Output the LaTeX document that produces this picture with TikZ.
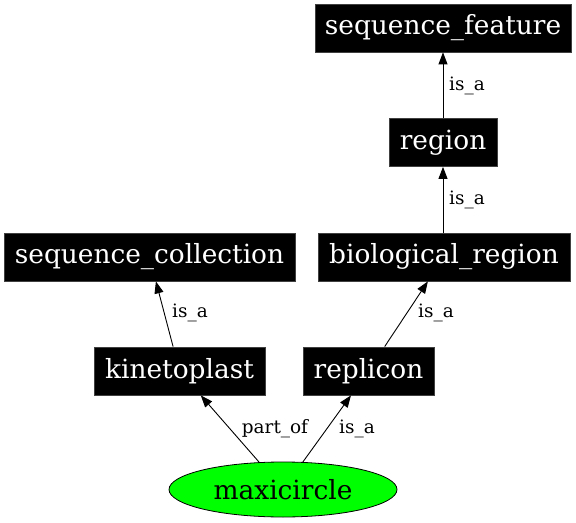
\documentclass[tikz,border=0pt]{standalone}
\usepackage{fontspec}
\setmainfont{DejaVu Serif}
\usetikzlibrary{arrows.meta,shapes.geometric}
\begin{document}
\begin{tikzpicture}[x=1bp,y=-1bp,
  term/.style={rectangle, fill=black, draw=black!75, line width=0.8bp, text=white,
    font=\fontsize{26.5}{30}\selectfont, inner sep=0pt, minimum height=48bp, anchor=center},
  leaf/.style={ellipse, fill=green, draw=black, line width=0.8bp,
    font=\fontsize{26.5}{30}\selectfont, inner sep=0pt, minimum width=228bp, minimum height=55bp},
  rel/.style={-{Triangle[length=12bp,width=9bp]}, line width=0.9bp, black},
  lab/.style={font=\fontsize{18.5}{22}\selectfont, inner sep=0pt, anchor=center}]
\useasboundingbox (0,0) rectangle (576,523);
\node[term, minimum width=256bp] (sf) at (443,28) {sequence\_feature};
\node[term, minimum width=108bp] (rg) at (443,142.5) {region};
\node[term, minimum width=252bp] (br) at (444,257) {biological\_region};
\node[term, minimum width=291bp] (sc) at (149.5,257) {sequence\_collection};
\node[term, minimum width=171bp] (kp) at (179.5,371) {kinetoplast};
\node[term, minimum width=131bp] (rp) at (368.5,371) {replicon};
\node[leaf] (mc) at (283,489.5) {maxicircle};
\draw[rel] (rg) -- (sf);
\draw[rel] (br.north -| rg) -- (rg);
\draw[rel] (kp) -- (sc);
\draw[rel] (rp) -- (br);
\draw[rel] (mc) -- (kp);
\draw[rel] (mc) -- (rp);
\node[lab] (l1) at (467,86) {is\_a};
\node[lab] (l2) at (467,200) {is\_a};
\node[lab] (l3) at (190,313) {is\_a};
\node[lab] (l4) at (436,313) {is\_a};
\node[lab] (l5) at (275,429) {part\_of};
\node[lab] (l6) at (357,429) {is\_a};
\end{tikzpicture}
\end{document}
